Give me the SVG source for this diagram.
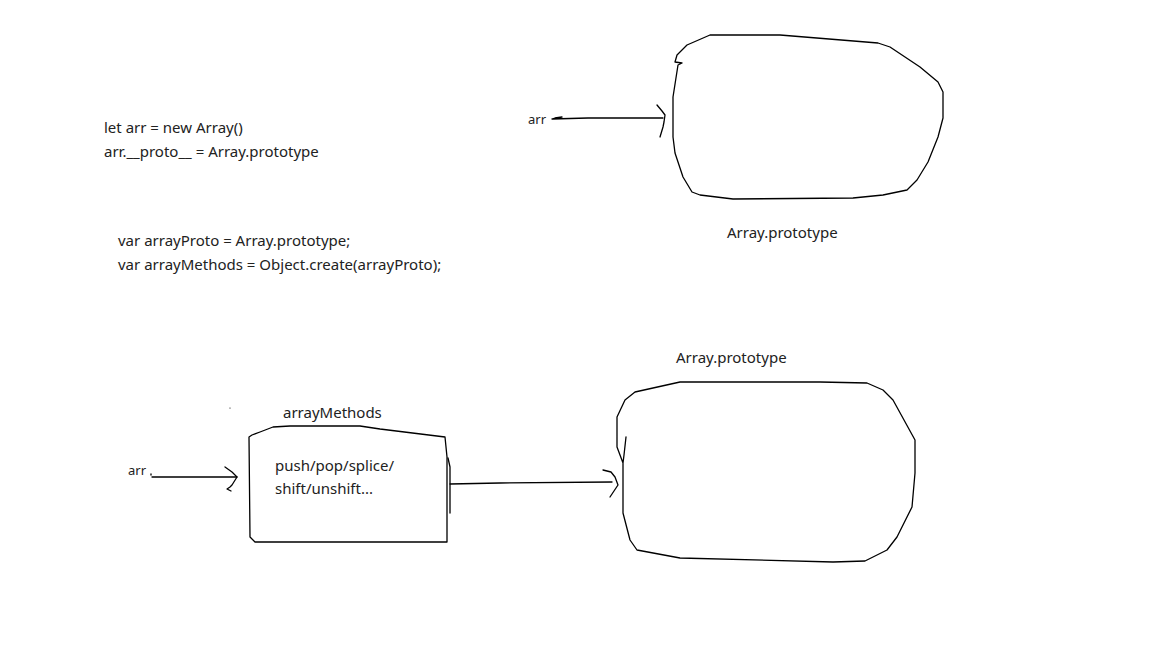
<svg xmlns="http://www.w3.org/2000/svg" width="1150" height="663" viewBox="0 0 1150 663">
<style>
text{font-family:"Noto Sans","Open Sans",sans-serif;fill:#222;font-size:15px}
.s{font-size:13px}
.ln{fill:none;stroke:#000;stroke-width:1.3;stroke-linejoin:round;stroke-linecap:round}
</style>
<rect width="1150" height="663" fill="#fff"/>
<g id="code">
<text x="104" y="133">let arr = new Array()</text>
<text x="104" y="157">arr.__proto__ = Array.prototype</text>
<text x="118" y="246">var arrayProto = Array.prototype;</text>
<text x="118" y="270">var arrayMethods = Object.create(arrayProto);</text>
</g>
<g id="arr-top"><text x="528" y="124" class="s">arr</text></g>
<g id="proto-top">
<path class="ln" d="M682,63 L675,62 L677,55 L687,45 L710,35 L780,35 L878,43 L890,47 L920,67 L938,82 L943,92 L943,118 L938,137 L928,162 L917,180 L907,190 L883,195 L853,198 L733,199 L700,195 L692,192 L683,177 L675,153 L673,137 L673,97 L678,65 L682,63"/>
<text x="727" y="238">Array.prototype</text>
</g>
<g id="arr-bottom"><text x="128" y="475" class="s">arr</text></g>
<g id="arrayMethods">
<path class="ln" d="M249,437 L252,435 L260,432 L273,427 L290,426 L360,426 L380,429 L445,437 L447,457 L447,542 L255,542 L250,537 Z"/>
<path class="ln" d="M448,458 L450,467 L450,513"/>
<text x="283" y="418">arrayMethods</text>
<text x="275" y="471">push/pop/splice/</text>
<text x="275" y="494">shift/unshift...</text>
</g>
<g id="proto-bottom">
<path class="ln" d="M626,437 L624,455 L623,463 L617,447 L617,417 L625,400 L635,392 L680,382 L820,382 L867,383 L883,390 L893,400 L915,440 L915,473 L912,507 L897,537 L887,550 L865,561 L833,562 L680,558 L637,550 L630,540 L623,513 L623,483 L623,463"/>
<text x="676" y="363">Array.prototype</text>
</g>
<g id="connectors">
<path class="ln" d="M552,119 L555,118 L562,117 M552,119 L588,118 L663,118"/>
<path class="ln" d="M657,105 L662,111 L665,115 L664,122 L663,127 L660,137"/>
<circle cx="230" cy="408" r="0.6" fill="#000"/>
<path class="ln" d="M151,474 L151,475 M152,477 L237,477"/>
<path class="ln" d="M225,467 L232,472 L237,477 L232,485 L230,487 L227,489 L231,491"/>
<path class="ln" d="M450,484 L500,483 L612,482"/>
<path class="ln" d="M603,470 L611,472 L615,477 L618,485 L614,491 L610,497"/>
</g>
</svg>
